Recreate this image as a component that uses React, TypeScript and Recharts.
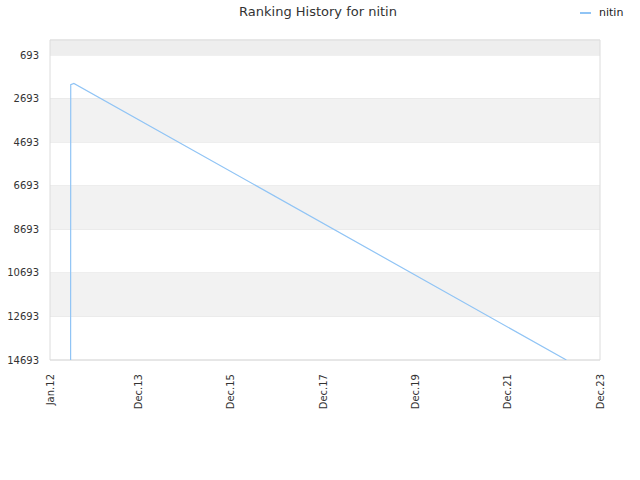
import { LineChart, Line, XAxis, YAxis, CartesianGrid, ReferenceArea } from 'recharts'

const dates = ['2012-06-12', '2012-06-13', '2012-07-08', '2023-03-10']
const ranks = [14693, 2056, 1992, 14693]
const yTicks = [693, 2693, 4693, 6693, 8693, 10693, 12693, 14693]
const xTickDates = ['2012-01-01', '2013-12-01', '2015-12-01', '2017-12-01', '2019-12-01', '2021-12-01', '2023-12-01']
const xTickLabels = ['Jan.12', 'Dec.13', 'Dec.15', 'Dec.17', 'Dec.19', 'Dec.21', 'Dec.23']
const bands: [number, number, string][] = [
  [1, 693, '#eeeeee'],
  [2693, 4693, '#f2f2f2'],
  [6693, 8693, '#f2f2f2'],
  [10693, 12693, '#f2f2f2'],
]

const ts = (d: string) => Date.parse(d + 'T00:00:00Z')
const data = dates.map((d, i) => ({ t: ts(d), rank: ranks[i] }))
const xTicks = xTickDates.map(ts)
const xMin = xTicks[0]
const xMax = xTicks[xTicks.length - 1]
const font = 'DejaVu Sans, sans-serif'

function XTick({ x, y, payload }: any) {
  const idx = xTicks.indexOf(payload.value)
  return (
    <text
      x={x}
      y={y}
      transform={`rotate(-90 ${x} ${y})`}
      dx={-6}
      dy={3.5}
      textAnchor="end"
      fontSize={10}
      fill="#333"
      fontFamily={font}
    >
      {xTickLabels[idx]}
    </text>
  )
}

export default function App() {
  return (
    <div style={{ position: 'relative', width: 640, height: 480, background: '#fff', fontFamily: font }}>
      <style>{'body{margin:0}'}</style>
      <div style={{ position: 'absolute', top: 4, left: 0, width: 636, textAlign: 'center', fontSize: 13, color: '#333' }}>
        Ranking History for nitin
      </div>
      <div style={{ position: 'absolute', top: 6, left: 580, fontSize: 11, color: '#222', display: 'flex', alignItems: 'center' }}>
        <span style={{ display: 'inline-block', width: 11, height: 2, background: '#90c4f5', marginRight: 8 }} />
        nitin
      </div>
      <LineChart width={640} height={480} data={data} margin={{ top: 40, right: 40, left: 0, bottom: 0 }}>
        {bands.map(([a, b, c], i) => (
          <ReferenceArea key={i} x1={xMin} x2={xMax} y1={a} y2={b} fill={c} fillOpacity={1} stroke="none" ifOverflow="hidden" />
        ))}
        <CartesianGrid vertical={false} stroke="#e4e4e4" />
        <ReferenceArea x1={xMin} x2={xMax} y1={1} y2={14693} fill="none" stroke="#dcdcdc" />
        <XAxis
          dataKey="t"
          type="number"
          scale="time"
          domain={[xMin, xMax]}
          ticks={xTicks}
          tick={<XTick />}
          tickLine={false}
          axisLine={false}
          height={120}
          interval={0}
        />
        <YAxis
          reversed
          type="number"
          domain={[1, 14693]}
          ticks={yTicks}
          width={50}
          tickLine={false}
          axisLine={false}
          tickSize={0}
          tickMargin={11}
          interval={0}
          tick={{ fontSize: 10, fill: '#333', fontFamily: font }}
          allowDataOverflow
        />
        <Line
          type="linear"
          dataKey="rank"
          stroke="#90c4f5"
          strokeWidth={1.2}
          dot={false}
          activeDot={false}
          isAnimationActive={false}
        />
      </LineChart>
    </div>
  )
}
